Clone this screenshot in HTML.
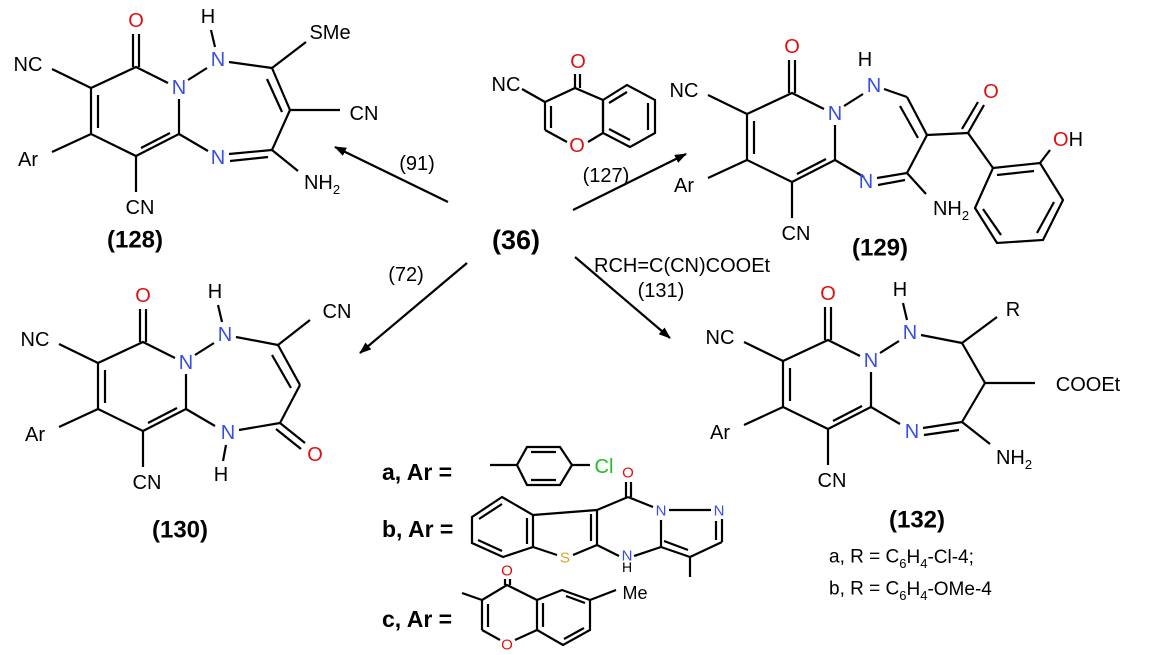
<!DOCTYPE html>
<html><head><meta charset="utf-8"><style>
html,body{margin:0;padding:0;background:#fff}
svg{display:block}
text{font-family:"Liberation Sans",sans-serif;font-size:20px;fill:#000;text-anchor:middle;dominant-baseline:central}
.b{font-weight:bold;font-size:24px}
.N{fill:#3a4fe0}.O{fill:#e01010}.S{fill:#e0a020}.Cl{fill:#20c020}
.s{font-size:13px}
.l{text-anchor:start}
line,polyline,polygon{stroke:#000;stroke-width:2.2;fill:none}
</style></head><body>
<svg width="1169" height="655" viewBox="0 0 1169 655" xmlns="http://www.w3.org/2000/svg">
<defs>
<marker id="ah" markerWidth="12" markerHeight="9" refX="11" refY="4.5" orient="auto" markerUnits="userSpaceOnUse"><path d="M0,0 L12,4.5 L0,9 Z" fill="#000"/></marker>
<g id="pyr">
<line x1="133" y1="67" x2="133" y2="34"/><line x1="139" y1="67" x2="139" y2="34"/>
<text x="136" y="21" class="O">O</text>
<polyline points="91,88 136,67 168,83"/>
<text x="179" y="88" class="N">N</text>
<polyline points="179,99 179,134 136,156 91,134 91,88"/>
<line x1="170" y1="133" x2="141" y2="148"/>
<line x1="98" y1="95" x2="98" y2="128"/>
<line x1="91" y1="88" x2="52" y2="69"/><text x="28" y="65">NC</text>
<line x1="91" y1="134" x2="52" y2="152"/><text x="28" y="160">Ar</text>
<line x1="136" y1="156" x2="136" y2="192"/><text x="140" y="208">CN</text>
<line x1="188" y1="80" x2="207" y2="68"/>
<text x="218" y="60" class="N">N</text>
<line x1="179" y1="134" x2="208" y2="151"/>
</g>
</defs>

<!-- 128 -->
<g>
<use href="#pyr"/>
<text x="208" y="17">H</text><line x1="211" y1="30" x2="215" y2="47"/>
<line x1="229" y1="62" x2="272" y2="68"/>
<line x1="272" y1="68" x2="306" y2="42"/><text x="330" y="33">SMe</text>
<line x1="272" y1="68" x2="290" y2="110"/><line x1="267" y1="79" x2="282" y2="112"/>
<line x1="290" y1="110" x2="340" y2="110"/><text x="364" y="114">CN</text>
<line x1="290" y1="110" x2="272" y2="150"/>
<text x="218" y="158" class="N">N</text>
<line x1="229" y1="154" x2="272" y2="150"/><line x1="230" y1="161" x2="268" y2="157"/>
<line x1="272" y1="150" x2="298" y2="171"/><text x="322" y="183">NH<tspan class="s" dy="6">2</tspan></text>
<text x="135" y="240" class="b">(128)</text>
</g>

<!-- 129 -->
<g transform="translate(656,26)">
<use href="#pyr"/>
<line x1="228" y1="63" x2="251" y2="71"/>
<line x1="251" y1="71" x2="271" y2="109"/><line x1="244" y1="80" x2="262" y2="112"/>
<line x1="271" y1="109" x2="251" y2="147"/>
<text x="210" y="156" class="N">N</text>
<line x1="221" y1="152" x2="251" y2="147"/><line x1="222" y1="159" x2="249" y2="154"/>
<line x1="251" y1="147" x2="270" y2="168"/><text x="295" y="183">NH<tspan class="s" dy="6">2</tspan></text>
</g>
<g>
<text x="865" y="60">H</text><line x1="867" y1="72" x2="867" y2="76" style="stroke:none"/>
<line x1="927" y1="135" x2="968" y2="133"/>
<line x1="968" y1="133" x2="984" y2="105"/><line x1="962" y1="129" x2="978" y2="102"/>
<text x="991" y="92" class="O">O</text>
<line x1="968" y1="133" x2="993" y2="168"/>
<polygon points="993,168 1040,163 1063,200 1043,240 997,243 975,208"/>
<line x1="997" y1="175" x2="1034" y2="171"/><line x1="1054" y1="202" x2="1037" y2="233"/><line x1="1001" y1="235" x2="983" y2="209"/>
<line x1="1040" y1="163" x2="1050" y2="150"/><text x="1053" y="140" class="l"><tspan class="O">O</tspan>H</text>
<text x="880" y="248" class="b">(129)</text>
</g>

<!-- 127 chromone -->
<g>
<text x="506" y="85">NC</text>
<line x1="522" y1="89" x2="545" y2="102"/>
<polyline points="545,102 575,88 603,100 603,133 588,142"/>
<line x1="575" y1="88" x2="575" y2="74"/><line x1="580" y1="88" x2="580" y2="74"/>
<text x="578" y="62" class="O">O</text>
<line x1="545" y1="102" x2="545" y2="130"/><line x1="551" y1="106" x2="551" y2="128"/>
<line x1="545" y1="130" x2="567" y2="142"/>
<text x="577" y="146" class="O">O</text>
<polygon points="603,100 627,85 655,100 655,133 630,147 603,133"/>
<line x1="609" y1="103" x2="627" y2="92"/><line x1="648" y1="103" x2="648" y2="130"/><line x1="630" y1="140" x2="609" y2="129"/>
</g>

<!-- arrows -->
<line x1="448" y1="202" x2="335" y2="147" marker-end="url(#ah)"/>
<text x="417" y="164">(91)</text>
<line x1="573" y1="210" x2="686" y2="154" marker-end="url(#ah)"/>
<text x="606" y="176">(127)</text>
<line x1="467" y1="263" x2="360" y2="353" marker-end="url(#ah)"/>
<text x="406" y="275">(72)</text>
<line x1="575" y1="257" x2="670" y2="338" marker-end="url(#ah)"/>
<text x="594" y="266" class="l">RCH=C(CN)COOEt</text>
<text x="661" y="291">(131)</text>
<text x="516" y="240" class="b" style="font-size:27px">(36)</text>

<!-- 130 -->
<g transform="translate(7,275)">
<use href="#pyr"/>
<text x="208" y="17">H</text><line x1="211" y1="30" x2="215" y2="47"/>
<line x1="229" y1="62" x2="271" y2="70"/>
<line x1="271" y1="70" x2="303" y2="45"/><text x="330" y="37">CN</text>
<line x1="271" y1="70" x2="293" y2="110"/><line x1="265" y1="80" x2="284" y2="113"/>
<line x1="293" y1="110" x2="273" y2="148"/>
<line x1="273" y1="148" x2="298" y2="168"/><line x1="269" y1="154" x2="294" y2="174"/>
<text x="308" y="180" class="O">O</text>
<text x="221" y="158" class="N">N</text>
<line x1="232" y1="155" x2="273" y2="148"/>
<line x1="219" y1="170" x2="216" y2="186"/><text x="214" y="200">H</text>
<text x="173" y="255" class="b">(130)</text>
</g>

<!-- 132 -->
<g transform="translate(692,273)">
<use href="#pyr"/>
<text x="208" y="17">H</text><line x1="211" y1="30" x2="215" y2="47"/>
<line x1="229" y1="62" x2="270" y2="70"/>
<line x1="270" y1="70" x2="305" y2="44"/><text x="321" y="37">R</text>
<line x1="270" y1="70" x2="293" y2="110"/>
<line x1="293" y1="110" x2="343" y2="110"/><text x="396" y="112">COOEt</text>
<line x1="293" y1="110" x2="270" y2="149"/>
<text x="220" y="159" class="N">N</text>
<line x1="231" y1="155" x2="270" y2="149"/><line x1="232" y1="162" x2="267" y2="157"/>
<line x1="270" y1="149" x2="298" y2="171"/><text x="322" y="185">NH<tspan class="s" dy="6">2</tspan></text>
<text x="225" y="247" class="b">(132)</text>
</g>
<text x="829" y="557" class="l" style="font-size:19px">a, R = C<tspan class="s" dy="6">6</tspan><tspan dy="-6">H</tspan><tspan class="s" dy="6">4</tspan><tspan dy="-6">-Cl-4;</tspan></text>
<text x="829" y="589" class="l" style="font-size:19px">b, R = C<tspan class="s" dy="6">6</tspan><tspan dy="-6">H</tspan><tspan class="s" dy="6">4</tspan><tspan dy="-6">-OMe-4</tspan></text>

<!-- Ar legend -->
<text x="382" y="472" class="b l" style="font-size:23px">a, Ar =</text>
<line x1="490" y1="465" x2="517" y2="465"/>
<polygon points="517,465 527,447 560,447 572,465 560,485 527,485"/>
<line x1="531" y1="452" x2="556" y2="452"/><line x1="531" y1="480" x2="556" y2="480"/>
<line x1="572" y1="465" x2="590" y2="465"/><text x="604" y="467" class="Cl">Cl</text>

<text x="382" y="529" class="b l" style="font-size:23px">b, Ar =</text>
<polygon points="472,517 502,497 533,515 533,547 503,557 472,543"/>
<line x1="479" y1="519" x2="502" y2="504"/><line x1="527" y1="518" x2="527" y2="544"/><line x1="502" y1="551" x2="478" y2="540"/>
<line x1="533" y1="515" x2="597" y2="510"/>
<line x1="597" y1="510" x2="597" y2="545"/><line x1="591" y1="514" x2="591" y2="541"/>
<line x1="597" y1="545" x2="573" y2="555"/><line x1="557" y1="555" x2="533" y2="547"/>
<text x="565" y="558" class="S" style="font-size:15px">S</text>
<line x1="597" y1="510" x2="628" y2="497"/>
<line x1="626" y1="497" x2="626" y2="482"/><line x1="631" y1="497" x2="631" y2="482"/>
<text x="628" y="473" class="O" style="font-size:15px">O</text>
<line x1="628" y1="497" x2="653" y2="507"/>
<text x="661" y="511" class="N" style="font-size:15px">N</text>
<line x1="669" y1="510" x2="711" y2="510"/>
<text x="719" y="511" class="N" style="font-size:15px">N</text>
<line x1="661" y1="520" x2="661" y2="547"/>
<line x1="722" y1="519" x2="722" y2="542"/><line x1="716" y1="521" x2="716" y2="540"/>
<line x1="722" y1="542" x2="690" y2="557"/>
<line x1="690" y1="557" x2="661" y2="547"/><line x1="688" y1="550" x2="664" y2="541"/>
<line x1="690" y1="557" x2="690" y2="577"/>
<line x1="661" y1="547" x2="634" y2="556"/><line x1="619" y1="556" x2="597" y2="545"/>
<text x="627" y="556" class="N" style="font-size:15px">N</text>
<text x="627" y="567" style="font-size:14px">H</text>

<text x="382" y="619" class="b l" style="font-size:23px">c, Ar =</text>
<line x1="462" y1="593" x2="482" y2="600"/>
<polyline points="482,630 482,600 507,585 537,600"/>
<line x1="488" y1="604" x2="488" y2="627"/>
<line x1="505" y1="585" x2="505" y2="579"/><line x1="510" y1="585" x2="510" y2="579"/>
<text x="507" y="571" class="O" style="font-size:15px">O</text>
<line x1="482" y1="630" x2="500" y2="640"/><line x1="515" y1="640" x2="537" y2="630"/>
<text x="507" y="645" class="O" style="font-size:15px">O</text>
<polygon points="537,600 562,590 590,600 590,630 563,645 537,630"/>
<line x1="543" y1="603" x2="543" y2="627"/><line x1="566" y1="596" x2="585" y2="603"/><line x1="584" y1="628" x2="564" y2="639"/>
<line x1="590" y1="600" x2="616" y2="590"/><text x="635" y="593" style="font-size:18px">Me</text>
</svg>
</body></html>
